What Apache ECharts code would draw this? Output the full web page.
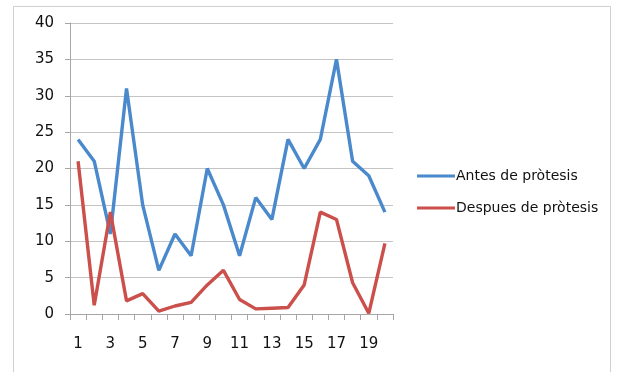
<!DOCTYPE html>
<html>
<head>
<meta charset="utf-8">
<style>
  html, body { margin: 0; padding: 0; background: #fff; }
  #chart { width: 617px; height: 372px; }
</style>
<script src="https://cdn.jsdelivr.net/npm/echarts@6/dist/echarts.min.js"></script>
</head>
<body>
<div id="chart"></div>
<script>
const categories = ['1','2','3','4','5','6','7','8','9','10','11','12','13','14','15','16','17','18','19','20'];
const antes = [24, 21, 11, 31, 15, 6, 11, 8, 20, 15, 8, 16, 13, 24, 20, 24, 35, 21, 19, 14];
const despues = [21, 1.2, 14, 1.8, 2.8, 0.4, 1.1, 1.6, 4, 6, 2, 0.7, 0.8, 0.9, 4, 14, 13, 4.3, 0.1, 9.7];
const seriesNames = ['Antes de pròtesis', 'Despues de pròtesis'];

const chart = echarts.init(document.getElementById('chart'));
const font = '"DejaVu Sans", sans-serif';
chart.setOption({
  animation: false,
  textStyle: { fontFamily: font },
  graphic: [{
    type: 'rect',
    shape: { x: 13.5, y: 6.5, width: 597, height: 380 },
    style: { fill: 'none', stroke: '#cfcfcf', lineWidth: 1 },
    silent: true
  }],
  grid: { left: 70, right: 224, top: 23, bottom: 58 },
  legend: {
    orient: 'vertical',
    left: 412,
    top: 164,
    itemWidth: 38,
    itemHeight: 3,
    itemGap: 18,
    icon: 'rect',
    textStyle: { fontSize: 14, color: '#111', fontFamily: font, padding: [0, 0, 0, -4] },
    data: seriesNames
  },
  xAxis: {
    type: 'category',
    data: categories,
    boundaryGap: true,
    axisLine: { lineStyle: { color: '#a6a6a6', width: 1 } },
    axisTick: { show: true, interval: 0, length: 6, lineStyle: { color: '#a6a6a6' } },
    axisLabel: { interval: 1, color: '#111', fontSize: 15, margin: 23, fontFamily: font }
  },
  yAxis: {
    type: 'value',
    min: 0,
    max: 40,
    interval: 5,
    axisLine: { show: true, lineStyle: { color: '#a6a6a6' } },
    axisTick: { show: true, length: 5, lineStyle: { color: '#a6a6a6' } },
    axisLabel: { color: '#111', fontSize: 15, margin: 16, fontFamily: font },
    splitLine: { lineStyle: { color: '#c4c4c4', width: 1 } }
  },
  series: [
    {
      name: seriesNames[0],
      type: 'line',
      data: antes,
      symbol: 'none',
      lineStyle: { color: '#4A89CB', width: 3.4 },
      itemStyle: { color: '#4A89CB' }
    },
    {
      name: seriesNames[1],
      type: 'line',
      data: despues,
      symbol: 'none',
      lineStyle: { color: '#CB4F4B', width: 3.4 },
      itemStyle: { color: '#CB4F4B' }
    }
  ]
});
</script>
</body>
</html>
